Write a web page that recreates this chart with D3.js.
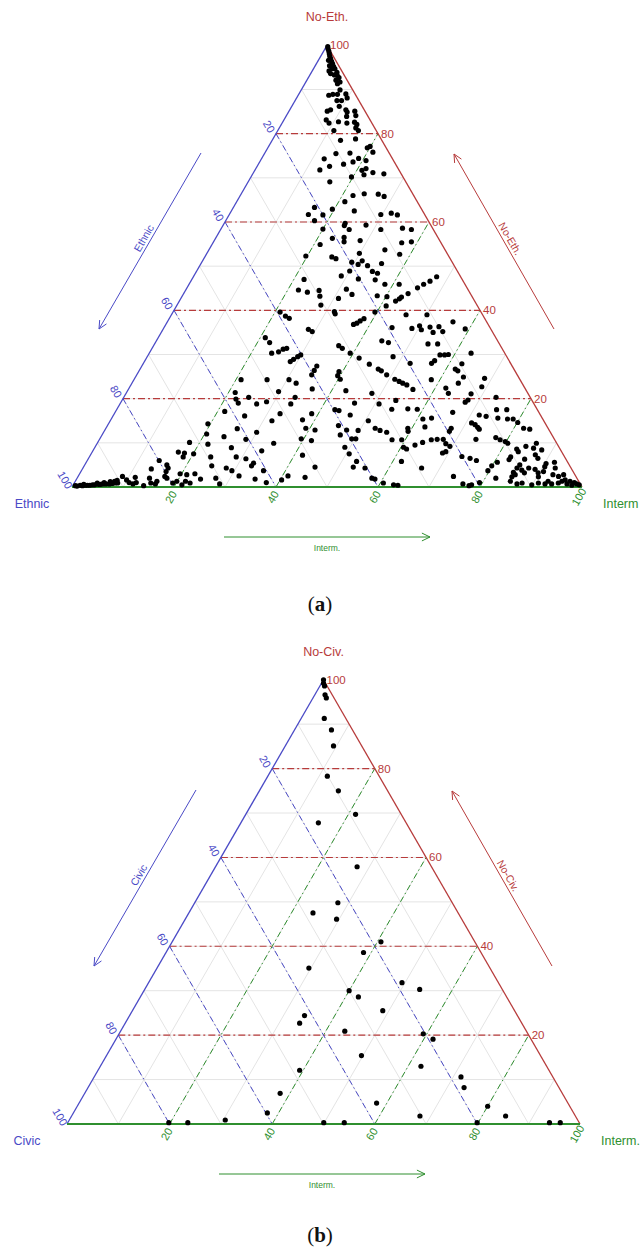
<!DOCTYPE html>
<html>
<head>
<meta charset="utf-8">
<script src="https://cdn.jsdelivr.net/npm/d3@7"></script>
<style>
  body { margin: 0; background: #fff; }
  svg { display: block; font-family: "Liberation Sans", Arial, sans-serif; }
</style>
</head>
<body>
<svg id="chart" width="640" height="1254"></svg>
<script>
// ternary values, each point is [Interm, No-X] in percent, the first share is 100 - both
const tickValues = [20, 40, 60, 80, 100];
const dashValues = [20, 40, 60, 80];
const gridValues = [10, 20, 30, 40, 50, 60, 70, 80, 90];

// (a) Ethnic / Interm / No-Eth.
const ethnicPoints = [
  [0.3,99.7],[0.6,99.2],[1.0,98.7],[1.4,98.1],[1.8,97.5],[2.2,97.0],[2.7,96.4],[3.2,95.8],[3.7,95.2],[4.2,94.7],
  [5.0,93.9],[3.3,94.2],[3.9,93.6],[4.8,93.3],[5.4,93.2],[6.0,92.7],[5.7,92.1],[6.7,91.7],[6.4,91.3],[2.0,96.6],
  [2.8,95.4],[3.6,94.7],[7.6,89.9],[6.0,88.7],[6.7,88.9],[7.6,88.9],[9.2,89.0],[9.9,88.1],[9.1,87.5],[8.2,87.5],
  [7.5,85.1],[8.0,85.4],[9.3,86.2],[11.0,85.4],[11.5,84.9],[12.9,85.1],[13.6,84.1],[8.3,83.1],[9.2,82.4],[10.9,82.7],
  [11.9,83.9],[12.7,82.4],[14.1,82.6],[14.8,82.1],[15.0,81.3],[15.8,80.7],[11.0,80.7],[13.4,78.5],[16.2,78.8],[19.9,77.1],
  [19.5,76.8],[21.1,75.8],[14.0,75.5],[16.7,75.6],[12.3,74.3],[16.7,73.1],[14.2,72.6],[12.7,71.8],[18.3,73.6],[19.0,74.4],
  [20.7,73.9],[21.6,72.1],[21.0,71.7],[23.4,71.2],[21.9,70.7],[19.7,70.2],[25.7,70.9],[16.0,69.1],[22.1,66.0],[24.1,66.4],
  [26.9,66.3],[28.3,65.8],
  [15.9,63.3],[19.6,62.9],[15.5,61.7],[18.4,61.6],[17.4,60.3],[21.2,64.6],[24.1,62.5],[23.7,59.7],[23.8,59.2],[25.2,58.3],
  [28.0,59.3],[20.0,58.4],[22.9,56.3],[25.1,56.5],[25.6,55.5],[28.6,55.8],[21.2,54.9],[19.7,52.3],[24.9,52.1],[25.9,51.7],
  [29.9,52.9],[31.3,51.2],[29.4,50.9],[30.9,50.4],[32.9,50.1],[30.0,48.9],[28.9,47.8],[22.0,47.0],[32.6,47.1],[22.1,44.6],
  [24.1,44.1],[26.2,44.5],[27.0,43.2],[28.2,41.2],[30.9,42.7],[31.4,44.8],[33.1,43.6],[31.6,39.7],[32.0,39.2],[21.0,39.6],
  [22.5,38.7],[23.5,38.2],[36.8,36.8],[37.3,37.1],[37.7,37.6],[38.2,38.1],[28.5,35.7],[29.5,35.2],[21.0,33.8],[22.4,32.7],
  [29.7,61.7],[31.6,62.0],[33.0,61.6],[31.4,58.3],[35.5,58.6],[37.4,58.3],[37.0,55.3],[38.8,55.5],[34.5,53.7],[37.9,52.7],
  [35.4,50.6],[34.5,48.8],[35.7,48.4],[36.0,46.9],[38.4,45.9],[41.2,45.9],[47.7,47.6],[46.9,46.6],[46.0,45.9],[45.2,45.1],
  [44.0,43.8],[43.1,43.0],[42.9,42.6],[42.4,42.1],[38.2,43.3],[40.2,43.1],[41.1,41.0],[39.6,39.6],[46.0,39.0],[50.1,39.0],
  [56.0,37.4],[48.7,35.9],[49.9,36.5],[50.7,35.6],[52.1,36.2],[53.8,36.3],[53.3,35.0],[55.1,35.2],[59.2,35.8],[44.7,36.1],
  [44.2,33.1],[45.7,32.7],[53.6,32.4],[55.5,32.4],
  [24.0,30.3],[25.2,30.6],[25.8,31.2],[26.4,31.4],[28.6,28.4],[29.0,28.9],[29.5,29.5],[29.9,29.9],[34.3,25.4],[34.3,26.4],
  [34.3,27.4],[21.0,24.3],[26.1,24.3],[30.4,24.3],[32.2,23.5],[36.0,22.2],[29.7,21.6],[21.3,21.4],[22.2,19.9],[23.1,19.0],
  [24.5,20.3],[26.8,18.8],[28.5,19.3],[33.6,20.3],[33.5,18.8],[21.4,17.1],[25.8,16.1],[31.7,15.0],[32.5,16.6],[37.6,15.2],
  [38.7,16.6],[19.5,14.3],[25.8,13.2],[30.0,12.4],[39.2,13.3],[41.2,12.9],[20.4,12.0],[24.1,11.4],[28.7,10.8],[34.6,9.9],
  [39.5,10.9],[41.7,10.5],[18.0,10.1],[21.8,9.7],[26.8,8.9],[33.1,8.2],[16.9,7.9],[18.2,7.7],[18.4,6.8],[20.1,7.5],
  [23.8,6.8],[28.8,6.8],[30.9,6.4],[32.9,5.4],[32.8,4.8],[41.6,7.2],[45.4,4.5],[14.1,6.0],[16.1,5.0],[16.7,3.5],
  [16.7,4.3],[13.5,4.1],[28.1,4.3],[29.5,3.7],[31.5,2.5],[35.7,3.7],[25.0,4.8],[19.7,3.0],[21.1,2.8],[22.6,3.0],
  [24.3,1.8],[27.2,2.0],[28.6,0.7],[35.0,1.8],[37.6,1.0],[40.3,1.6],[41.1,2.5],[44.6,2.2],[8.7,2.4],[9.9,1.6],
  [10.7,1.0],[11.6,0.7],[11.3,2.2],[12.1,1.0],[13.9,0.3],[14.2,2.0],[15.0,0.9],[16.0,0.7],[16.0,1.3],[17.0,2.4],
  [17.6,2.0],[19.3,0.9],[19.9,1.3],[21.3,0.5],[21.6,1.3],[22.7,0.9],
  [0.5,0.3],[1.4,0.4],[2.4,0.4],[3.3,0.4],[4.2,0.5],[4.9,0.6],[5.7,0.7],[6.3,0.7],[7.0,0.7],[7.5,0.8],
  [8.0,0.9],[8.5,0.9],[5.8,1.0],[6.9,1.2],[7.7,1.3],[8.1,1.5],[0.9,0.2],[1.9,0.3],[2.8,0.4],[3.8,0.5],
  [5.3,0.6],[2.0,0.6],[4.5,0.9],
  [36.3,32.0],[37.3,31.4],[39.4,30.3],[41.7,29.2],[39.3,26.1],[39.5,25.2],[40.4,24.4],[42.8,21.8],[44.4,27.8],[46.7,26.7],
  [47.5,26.3],[49.0,25.4],[51.1,24.4],[52.2,23.9],[53.1,23.5],[54.1,23.1],[55.8,22.1],[48.2,21.2],[48.2,29.5],[52.3,28.0],
  [56.5,28.0],[56.8,28.6],[57.2,29.9],[58.1,29.9],[58.8,30.0],[63.1,30.3],[62.5,27.9],[61.8,26.7],[62.5,26.3],[64.3,24.9],
  [64.0,23.5],[58.3,24.3],[62.1,22.4],[63.2,21.2],[68.6,24.6],[69.0,22.7],[67.7,21.1],[73.0,20.3],[45.9,19.0],[42.8,17.5],
  [43.7,17.3],[46.4,16.3],[50.8,18.8],[53.7,19.6],[53.9,17.6],[57.0,17.7],[58.9,17.6],[50.6,15.0],[49.7,12.8],[45.3,13.9],
  [47.4,12.9],[46.7,11.8],[49.4,10.9],[50.2,10.9],[52.8,13.3],[54.0,12.8],[55.5,12.4],[57.4,10.7],[59.3,10.7],[59.2,13.3],
  [59.6,12.6],[61.1,15.4],[62.7,15.6],[62.4,13.6],[62.5,9.5],[63.7,10.1],[65.1,10.7],[66.2,10.8],[67.4,10.8],[68.4,9.8],
  [67.7,13.3],[67.7,12.6],[66.2,16.9],[67.5,19.2],[67.8,19.7],[71.7,16.3],[73.2,16.0],[71.1,14.5],[72.0,14.1],[72.8,13.5],
  [73.3,13.1],[73.8,10.8],[74.5,17.5],[75.7,15.6],[76.5,17.5],[77.7,15.4],[78.8,15.4],[80.1,14.6],[81.9,13.3],[83.2,13.1],
  [77.5,11.2],[78.6,10.7],[79.8,10.3],[80.5,9.9],[49.0,9.0],[50.6,7.5],[52.9,5.8],[52.9,4.5],[55.3,4.3],[57.8,2.0],
  [58.5,1.8],[60.6,0.9],[62.8,0.5],[63.7,0.4],[60.5,9.0],[61.3,8.6],[61.7,5.8],[66.4,4.3],[68.8,7.7],[69.3,8.0],
  [69.5,9.2],[73.0,6.9],[74.8,6.5],[76.3,6.0],[73.6,2.4],[76.3,0.7],[77.7,0.3],[78.1,0.5],[79.4,1.0],[79.7,3.7],
  [79.9,4.8],[80.6,5.6],[82.1,2.0],[82.6,6.8],[82.6,6.2],[85.6,6.3],[84.4,9.2],[82.9,8.6],[83.5,8.0],[87.2,7.3],
  [88.1,6.5],[87.9,8.4],[86.1,9.9],[86.1,8.8],[85.3,5.0],[85.1,4.3],[84.9,3.3],[85.1,2.3],[85.3,1.3],[85.5,2.8],
  [86.3,3.8],[87.1,3.2],[87.4,4.3],[88.8,4.0],[89.8,3.2],[90.3,2.3],[90.7,3.5],[90.4,4.6],[90.3,5.3],[91.8,5.6],
  [92.6,4.3],[92.9,2.8],[94.2,2.4],[95.0,2.8],[95.9,1.6],[97.0,1.3],[98.0,1.0],[98.6,0.7],[99.2,0.5],[94.9,0.9],
  [93.7,0.7],[92.4,0.7],[91.0,0.9],[89.9,0.5],[87.8,0.9],[86.9,0.7],[92.7,1.3],[96.7,0.7],[97.8,0.4],[95.4,1.3]
];

// (b) Civic / Interm. / No-Civ.
const civicPoints = [
  [0,100],[0.4,99.2],[0.9,98.6],[2.0,96.6],[2.6,95.9],[4.5,91.3],[7.2,88.7],[9.4,85.1],[11.6,78.3],[15.4,75.0],
  [21.4,69.7],[15.1,67.8],[27.6,57.9],[27.9,49.8],[24.2,47.5],[29.5,46.1],[40.7,41.0],[38.5,38.6],[29.6,35.1],[49.4,31.8],
  [53.6,30.3],[40.0,30.0],[42.5,28.6],[48.8,25.5],[34.1,24.4],[34.0,22.7],[43.7,20.9],[59.3,20.3],[61.8,19.1],[49.7,15.4],
  [62.5,13.0],[39.3,12.1],[71.5,10.6],[73.3,8.2],[38.1,6.9],[58.0,4.7],[80.0,4.0],[37.8,2.5],[67.9,1.8],[84.6,1.8],
  [19.7,0.3],[23.4,0.3],[30.4,0.9],[49.9,0.3],[53.9,0.3],[79.8,0.3],[93.9,0.3],[96.0,0.3]
];

const red = '#b73b3b', blue = '#4a4ac6', green = '#2f8f2f';

const svg = d3.select('#chart');

const drawTernary = (cfg) => {
  const g = svg.append('g');
  const h = (cfg.right - cfg.left) * Math.sqrt(3) / 2;
  // u = Interm + NoX / 2 runs along the base, NoX runs upwards
  const xScale = d3.scaleLinear().domain([0, 100]).range([cfg.left, cfg.right]);
  const yScale = d3.scaleLinear().domain([0, 100]).range([cfg.bottom, cfg.bottom - h]);
  const px = (i, n) => [xScale(i + n / 2), yScale(n)];
  const seg = (a, b, stroke, width, dash) => g.append('line')
      .attr('x1', a[0]).attr('y1', a[1]).attr('x2', b[0]).attr('y2', b[1])
      .attr('stroke', stroke).attr('stroke-width', width)
      .attr('stroke-dasharray', dash || null);

  // light grey grid every 10
  gridValues.forEach(v => {
    seg(px(0, v), px(100 - v, v), '#e4e4e4', 1);
    seg(px(v, 0), px(v, 100 - v), '#e4e4e4', 1);
    seg(px(0, 100 - v), px(100 - v, 0), '#e4e4e4', 1);
  });

  // coloured dashed guides every 20
  dashValues.forEach(v => {
    seg(px(0, v), px(100 - v, v), red, 1.1, '7,3,2,3');
    seg(px(0, 100 - v), px(100 - v, 0), blue, 1, '6,3,1.5,3');
    seg(px(v, 0), px(v, 100 - v), green, 1, '6,3,1.5,3');
  });

  // triangle edges
  seg(px(0, 0), px(0, 100), blue, 1.3);
  seg(px(100, 0), px(0, 100), red, 1.3);
  seg(px(0, 0), px(100, 0), green, 1.8);

  // tick labels
  tickValues.forEach(v => {
    const pr = px(100 - v, v);
    g.append('text').attr('x', pr[0] + 3).attr('y', pr[1] + 4)
      .attr('fill', red).attr('font-size', 11.5).text(v);
    const pl = px(0, 100 - v);
    g.append('text')
      .attr('transform', `translate(${pl[0] - 7},${pl[1] - 7}) rotate(60)`)
      .attr('text-anchor', 'middle').attr('dy', '0.35em')
      .attr('fill', blue).attr('font-size', 11).text(v);
    const pb = px(v, 0);
    g.append('text')
      .attr('transform', `translate(${pb[0] - 3},${pb[1] + 10}) rotate(-60)`)
      .attr('text-anchor', 'middle').attr('dy', '0.35em')
      .attr('fill', green).attr('font-size', 11).text(v);
  });

  // corner labels
  const top = px(0, 100);
  g.append('text').attr('x', top[0]).attr('y', top[1] - 24)
    .attr('text-anchor', 'middle').attr('fill', red).attr('font-size', 12.5).text(cfg.topLabel);
  g.append('text').attr('x', cfg.left - 40).attr('y', cfg.bottom + 21)
    .attr('text-anchor', 'middle').attr('fill', blue).attr('font-size', 12.5).text(cfg.leftLabel);
  g.append('text').attr('x', cfg.right + 21).attr('y', cfg.bottom + 21)
    .attr('fill', green).attr('font-size', 12.5).text(cfg.rightLabel);

  // axis arrows with their names
  const arrow = (a, b, color) => {
    seg(a, b, color, 1);
    const ang = Math.atan2(b[1] - a[1], b[0] - a[0]);
    [-0.45, 0.45].forEach(d => {
      seg(b, [b[0] - 9 * Math.cos(ang + d), b[1] - 9 * Math.sin(ang + d)], color, 1);
    });
  };
  const la = [cfg.left + 129, cfg.bottom - 334], lb = [cfg.left + 27, cfg.bottom - 158];
  arrow(la, lb, blue);
  g.append('text')
    .attr('transform', `translate(${(la[0] + lb[0]) / 2 - 3},${(la[1] + lb[1]) / 2 - 1}) rotate(-60)`)
    .attr('text-anchor', 'middle').attr('fill', blue).attr('font-size', 10.5).text(cfg.leftLabel);
  const ra = [cfg.right - 28, cfg.bottom - 158], rb = [cfg.right - 128, cfg.bottom - 333];
  arrow(ra, rb, red);
  g.append('text')
    .attr('transform', `translate(${(ra[0] + rb[0]) / 2 + 3},${(ra[1] + rb[1]) / 2 - 1}) rotate(60)`)
    .attr('text-anchor', 'middle').attr('fill', red).attr('font-size', 10.5).text(cfg.topLabel);
  const ba = [cfg.left + 152, cfg.bottom + 50], bb = [cfg.left + 358, cfg.bottom + 50];
  arrow(ba, bb, green);
  g.append('text').attr('x', (ba[0] + bb[0]) / 2).attr('y', cfg.bottom + 64)
    .attr('text-anchor', 'middle').attr('fill', green).attr('font-size', 8.5).text('Interm.');

  // points
  g.append('g').selectAll('circle')
    .data(cfg.points)
    .enter()
    .append('circle')
    .attr('cx', d => px(d[0], d[1])[0])
    .attr('cy', d => px(d[0], d[1])[1])
    .attr('r', 2.6)
    .attr('fill', '#000');

  // caption
  const cap = svg.append('text').attr('x', 320).attr('y', cfg.captionY)
    .attr('text-anchor', 'middle').attr('font-family', '"Liberation Serif", "DejaVu Serif", serif')
    .attr('font-size', 21).attr('fill', '#111');
  cap.append('tspan').text('(');
  cap.append('tspan').attr('font-weight', 'bold').text(cfg.caption);
  cap.append('tspan').text(')');
};

drawTernary({left: 72, right: 582, bottom: 487, points: ethnicPoints,
  topLabel: 'No-Eth.', leftLabel: 'Ethnic', rightLabel: 'Interm', caption: 'a', captionY: 611});
drawTernary({left: 67, right: 580, bottom: 1124, points: civicPoints,
  topLabel: 'No-Civ.', leftLabel: 'Civic', rightLabel: 'Interm.', caption: 'b', captionY: 1242});
</script>
</body>
</html>
